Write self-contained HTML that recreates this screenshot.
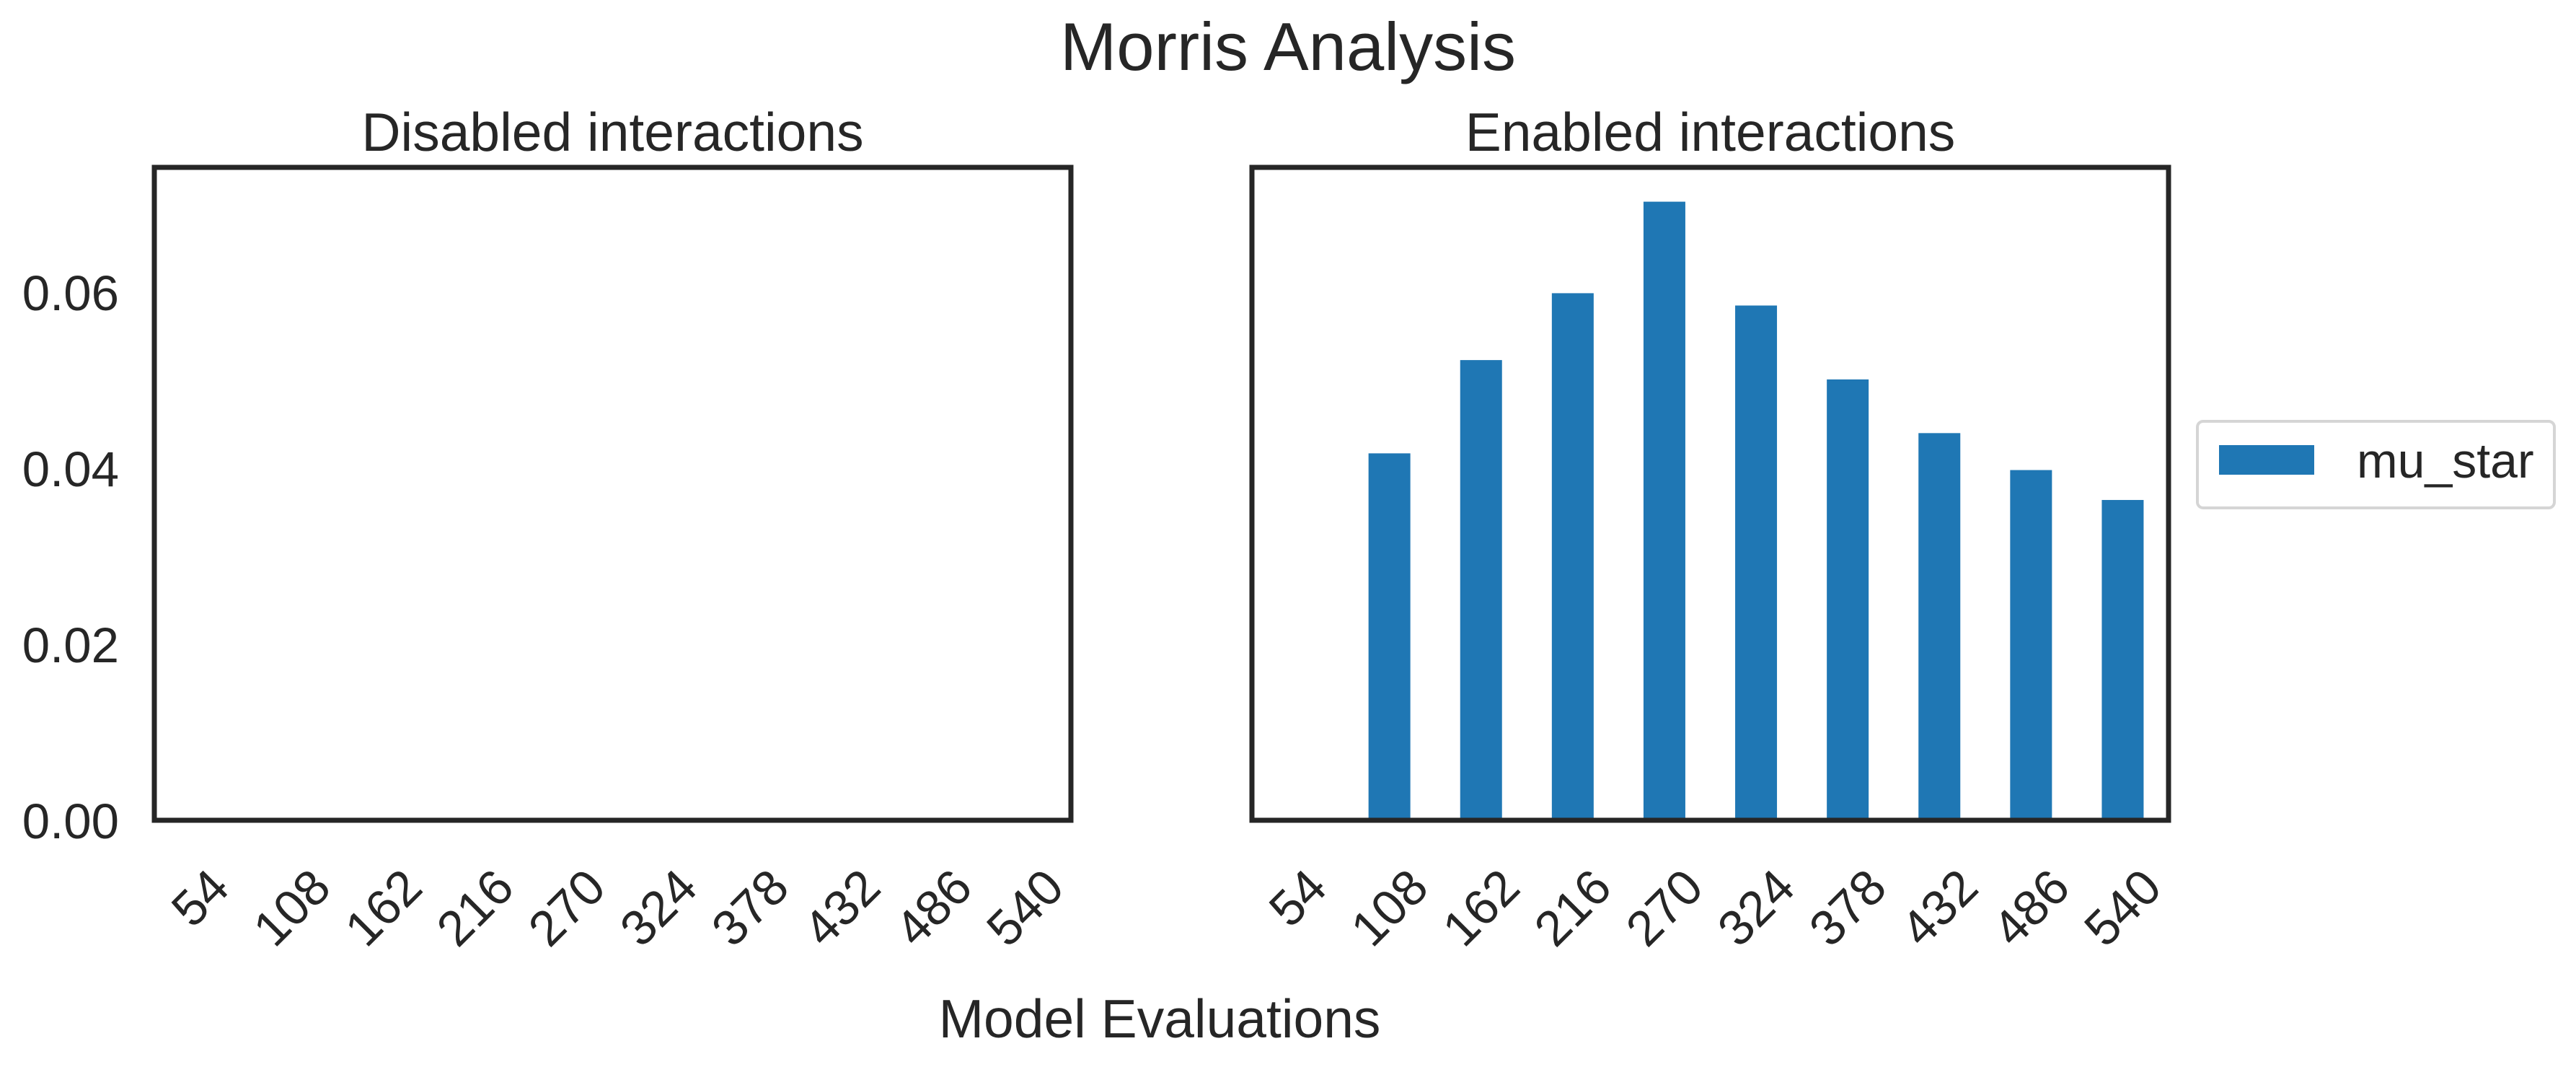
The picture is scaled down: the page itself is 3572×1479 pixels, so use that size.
<!DOCTYPE html>
<html><head><meta charset="utf-8"><style>
html,body{margin:0;padding:0;background:#fff;}
svg{display:block;font-family:"Liberation Sans",Arial,sans-serif;fill:#262626;}
</style></head><body>
<svg id="chart" width="3572" height="1479" viewBox="0 0 3572 1479" xmlns="http://www.w3.org/2000/svg">
<text x="1786" y="97" font-size="94" text-anchor="middle">Morris Analysis</text>
<text x="1608" y="1438" font-size="75" text-anchor="middle">Model Evaluations</text>
<g id="left"></g>
<g id="right"></g>
<g>
<rect x="3047" y="584" width="495" height="120" rx="8" fill="#fff" stroke="#d5d5d5" stroke-width="4"/>
<rect x="3077" y="617" width="132" height="41" fill="#1f77b4"/>
<text x="3268" y="662" font-size="68">mu_star</text>
</g>
</svg>
<script>
const categories = ["54","108","162","216","270","324","378","432","486","540"];
const disabledValues = [0,0,0,0,0,0,0,0,0,0];
const enabledValues = [0,0.0417,0.0523,0.0599,0.0703,0.0585,0.0501,0.0440,0.0398,0.0364];
const yTicks = [0,0.02,0.04,0.06];
const yTickLabels = ["0.00","0.02","0.04","0.06"];

const NS="http://www.w3.org/2000/svg";
const TOP=232, BOT=1137, YMAX=0.0742;
function yScale(v){return BOT-(v/YMAX)*(BOT-TOP);}
function mk(tag,attrs,parent){const e=document.createElementNS(NS,tag);for(const k in attrs)e.setAttribute(k,attrs[k]);parent.appendChild(e);return e;}

function panel(gid,x0,x1,title,values,showY){
  const g=document.getElementById(gid);
  const bw=(x1-x0)/categories.length;
  const xScale=i=>x0+(i+0.5)*bw;
  const t=mk('text',{x:(x0+x1)/2,y:209,'font-size':75,'text-anchor':'middle'},g);
  t.textContent=title;
  
  
  values.forEach((v,i)=>{
    if(v<=0)return;
    const w=58;
    const r=mk('rect',{x:xScale(i)-w/2,y:yScale(v),width:w,height:BOT-yScale(v),fill:'#1f77b4'},g);
    
    
  });
  const f=mk('rect',{x:x0,y:TOP,width:x1-x0,height:BOT-TOP,fill:'none',stroke:'#262626','stroke-width':7},g);
  
  
  categories.forEach((c,i)=>{
    const fs=69;
    const w=c.length*0.556*fs, h=0.72*fs;
    const ext=(w+h)*0.7071;
    const cx=xScale(i), cy=1200+ext/2;
    const tx=mk('text',{x:cx,y:cy,'font-size':fs,'text-anchor':'middle','dominant-baseline':'central',transform:'rotate(-45 '+cx+' '+cy+')'},g);
    tx.textContent=c;
    
    
  });
  if(showY){
    yTicks.forEach((v,i)=>{
      const tx=mk('text',{x:165,y:yScale(v)+25,'font-size':69,'text-anchor':'end'},g);
      tx.textContent=yTickLabels[i];
      
      
    });
  }
}
panel('left',214,1485,'Disabled interactions',disabledValues,true);
panel('right',1736,3007,'Enabled interactions',enabledValues,false);
</script>
</body></html>
